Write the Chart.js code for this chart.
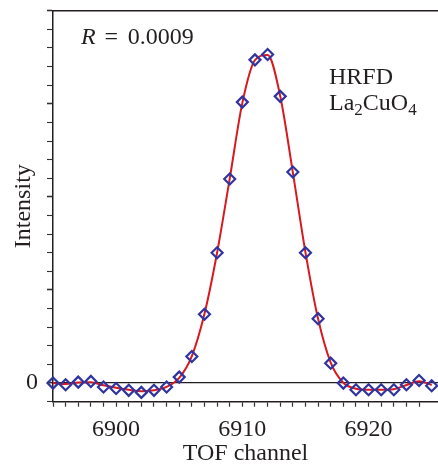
<!DOCTYPE html>
<html>
<head>
<meta charset="utf-8">
<script src="https://cdn.jsdelivr.net/npm/chart.js@4.4.1/dist/chart.umd.min.js"></script>
<style>
  html, body { margin: 0; padding: 0; background: #fff; }
</style>
</head>
<body>
<canvas id="c" width="438" height="466"></canvas>
<script>
// TOF channels
const channels = [6895, 6896, 6897, 6898, 6899, 6900, 6901, 6902, 6903, 6904,
                  6905, 6906, 6907, 6908, 6909, 6910, 6911, 6912, 6913, 6914,
                  6915, 6916, 6917, 6918, 6919, 6920, 6921, 6922, 6923, 6924, 6925];
// measured intensity (diamonds), arbitrary units (1 unit = 1 minor tick)
const observed = [0, -0.09, 0.05, 0.09, -0.21, -0.29, -0.39, -0.5, -0.39, -0.21,
                  0.32, 1.43, 3.7, 7.0, 10.96, 15.09, 17.36, 17.65, 15.4, 11.34,
                  7.0, 3.46, 1.07, 0, -0.36, -0.36, -0.36, -0.36, -0.09, 0.14, -0.14];
// fitted profile (red line)
const fitted = [0, -0.05, 0.03, 0.05, -0.12, -0.25, -0.36, -0.44, -0.38, -0.2,
                0.28, 1.45, 3.72, 7.0, 10.98, 15.05, 17.35, 17.62, 15.42, 11.32,
                7.02, 3.45, 1.1, 0.02, -0.3, -0.36, -0.36, -0.33, -0.1, 0.1, -0.1];
const xLabels = [6900, 6910, 6920];
const yLabels = [0];

const ink = '#231f20';
const serif = '"Liberation Serif", "Times New Roman", serif';
Chart.defaults.font.family = serif;
Chart.defaults.font.size = 24;
Chart.defaults.color = ink;

const textPlugin = {
  id: 'notes',
  afterDraw(chart) {
    const ctx = chart.ctx, a = chart.chartArea;
    ctx.save();
    ctx.fillStyle = ink;
    ctx.textBaseline = 'alphabetic';
    ctx.textAlign = 'left';
    // R = 0.0009
    ctx.font = 'italic 24px ' + serif;
    ctx.fillText('R', a.left + 28, a.top + 33.6);
    ctx.font = '24px ' + serif;
    ctx.fillText('=', a.left + 51.5, a.top + 33.6);
    ctx.fillText('0.0009', a.left + 74.8, a.top + 33.6);
    // HRFD / La2CuO4
    const x0 = a.left + 276;
    ctx.fillText('HRFD', x0, a.top + 73.6);
    let x = x0, base = a.top + 99.3;
    const parts = [['La', false], ['2', true], ['CuO', false], ['4', true]];
    for (const [t, sub] of parts) {
      ctx.font = (sub ? '17px ' : '24px ') + serif;
      ctx.fillText(t, x, base + (sub ? 5 : 0));
      x += ctx.measureText(t).width;
    }
    ctx.restore();
  }
};

new Chart(document.getElementById('c'), {
  type: 'scatter',
  data: {
    datasets: [
      {
        label: 'data',
        data: channels.map((c, i) => ({x: c, y: observed[i]})),
        showLine: false,
        pointStyle: 'rectRot',
        pointRadius: 5.5,
        borderColor: '#2f349e',
        borderWidth: 2.2,
        backgroundColor: 'rgba(0,0,0,0)',
        clip: false
      },
      {
        label: 'fit',
        data: channels.map((c, i) => ({x: c, y: fitted[i]})),
        showLine: true,
        borderColor: '#d71920',
        borderWidth: 2,
        pointRadius: 0,
        cubicInterpolationMode: 'monotone'
      }
    ]
  },
  options: {
    responsive: false,
    animation: false,
    layout: { padding: 0, autoPadding: false },
    plugins: { legend: { display: false }, tooltip: { enabled: false } },
    scales: {
      x: {
        type: 'linear',
        position: 'bottom',
        min: 6895,
        max: 6925.5,
        afterFit: s => { s.height = 64.3; s.paddingLeft = 0; s.paddingRight = 0; },
        afterBuildTicks: s => { s.ticks = s.ticks.filter(t => Number.isInteger(t.value)); },
        ticks: {
          stepSize: 1,
          autoSkip: false,
          maxRotation: 0,
          padding: 9,
          callback: v => xLabels.includes(v) ? String(v) : ''
        },
        grid: { drawOnChartArea: false, tickLength: 5, tickColor: '#333', tickWidth: 1.2 },
        border: { color: ink, width: 1.5 },
        title: { display: true, text: 'TOF channel', padding: { top: 0, bottom: -2.5 } }
      },
      x2: {
        type: 'linear',
        position: 'top',
        min: 6895,
        max: 6925.5,
        afterFit: s => { s.height = 10.7; s.paddingLeft = 0; s.paddingRight = 0; },
        ticks: { display: false },
        grid: { display: false, drawTicks: false },
        border: { color: ink, width: 1.5 }
      },
      y: {
        min: -1,
        max: 20,
        afterFit: s => { s.width = 53; s.paddingTop = 0; s.paddingBottom = 0; },
        ticks: {
          stepSize: 1,
          autoSkip: false,
          padding: 9,
          callback: v => yLabels.includes(v) ? String(v) : ''
        },
        grid: {
          color: c => c.tick && c.tick.value === 0 ? ink : 'rgba(0,0,0,0)',
          lineWidth: c => c.tick && c.tick.value === 0 ? 1.3 : 1,
          tickLength: 6,
          tickColor: '#333',
          tickWidth: c => c.tick && c.tick.value % 5 === 0 ? 1.6 : 1.1
        },
        border: { color: ink, width: 1.5 },
        title: { display: true, text: 'Intensity', padding: { top: 9, bottom: 0 } }
      }
    }
  },
  plugins: [textPlugin]
});
</script>
</body>
</html>
